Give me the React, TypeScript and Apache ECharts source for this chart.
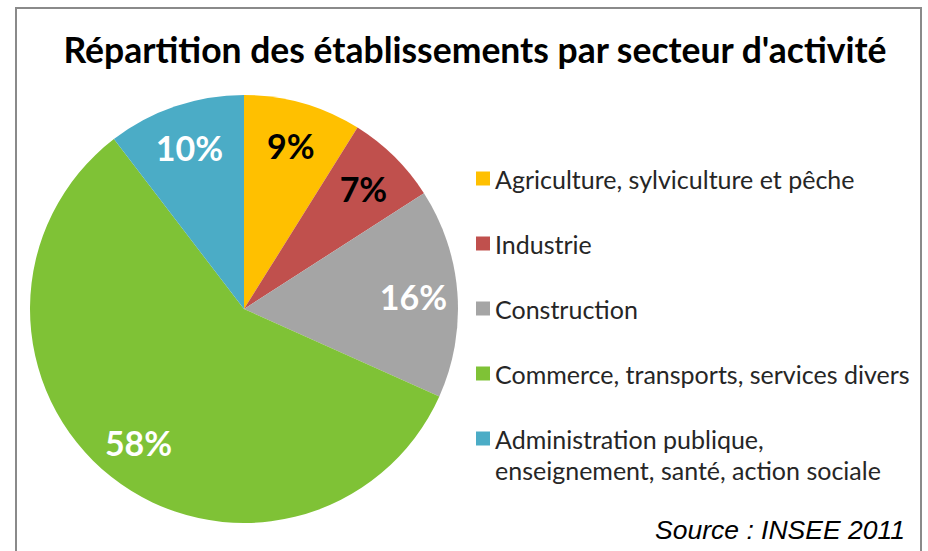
import React, { useEffect, useRef } from "react";
import * as echarts from "echarts";

const TITLE = "Répartition des établissements par secteur d'activité";
const SOURCE = "Source : INSEE 2011";
const categories = [
  "Agriculture, sylviculture et pêche",
  "Industrie",
  "Construction",
  "Commerce, transports, services divers",
  "Administration publique, enseignement, santé, action sociale",
];
const values = [8.9, 7.0, 15.8, 57.9, 10.4];
const colors = ["#FFC000", "#C0504D", "#A5A5A5", "#7FC236", "#4BACC6"];
const labelColors = ["#000000", "#000000", "#FFFFFF", "#FFFFFF", "#FFFFFF"];
const legendFirstLine: Record<string, string> = {
  "Administration publique, enseignement, santé, action sociale": "Administration publique,",
};
const legendSecondLine = "enseignement, santé, action sociale";

export default function App() {
  const ref = useRef<HTMLDivElement>(null);
  useEffect(() => {
    if (!ref.current) return;
    const chart = echarts.init(ref.current, null, { renderer: "svg" });
    const data = categories.map((name, i) => ({
      name,
      value: values[i],
      itemStyle: { color: colors[i] },
    }));
    const labelData = categories.map((name, i) => ({
      name,
      value: values[i],
      label: { color: labelColors[i] },
    }));
    chart.setOption({
      animation: false,
      backgroundColor: "#ffffff",
      title: {
        text: TITLE,
        left: 470,
        top: 26,
        textAlign: "center",
        textStyle: {
          fontFamily: "Lato",
          fontWeight: "bold",
          fontSize: 35.5,
          color: "#000000",
        },
      },
      legend: {
        orient: "vertical",
        left: 471,
        top: 159,
        itemWidth: 14,
        itemHeight: 14,
        itemGap: 36,
        icon: "rect",
        selectedMode: false,
        data: categories,
        formatter: (name: string) => legendFirstLine[name] ?? name,
        textStyle: {
          fontFamily: "Lato",
          fontSize: 25,
          lineHeight: 29,
          color: "#262626",
        },
      },
      graphic: [
        {
          type: "rect",
          shape: { x: 16, y: 8, width: 905, height: 580 },
          style: { fill: "none", stroke: "#8a8a8a", lineWidth: 2 },
          silent: true,
        },
        {
          type: "text",
          x: 495,
          y: 470,
          style: {
            text: legendSecondLine,
            fontFamily: "Lato",
            fontSize: 25,
            fill: "#262626",
            verticalAlign: "middle",
          },
        },
        {
          type: "text",
          x: 905,
          y: 530,
          style: {
            text: SOURCE,
            fontFamily: "Liberation Sans",
            fontStyle: "italic",
            fontSize: 26.5,
            fill: "#000000",
            align: "right",
            verticalAlign: "middle",
          },
        },
      ],
      series: [
        {
          type: "pie",
          center: [244, 309],
          radius: [0, 214],
          startAngle: 90,
          clockwise: true,
          label: { show: false },
          labelLine: { show: false },
          emphasis: { disabled: true },
          data,
        },
        {
          type: "pie",
          center: [244, 309],
          radius: [120, 214],
          startAngle: 90,
          clockwise: true,
          silent: true,
          itemStyle: { color: "rgba(0,0,0,0)" },
          labelLine: { show: false },
          emphasis: { disabled: true },
          label: {
            show: true,
            position: "inside",
            fontFamily: "Lato",
            fontWeight: "bold",
            fontSize: 34,
            formatter: (p: any) => Math.round(p.value) + "%",
          },
          data: labelData,
        },
      ],
    });
    return () => chart.dispose();
  }, []);
  return (
    <div
      ref={ref}
      style={{ position: "fixed", left: 0, top: 0, width: 928, height: 551 }}
    />
  );
}
